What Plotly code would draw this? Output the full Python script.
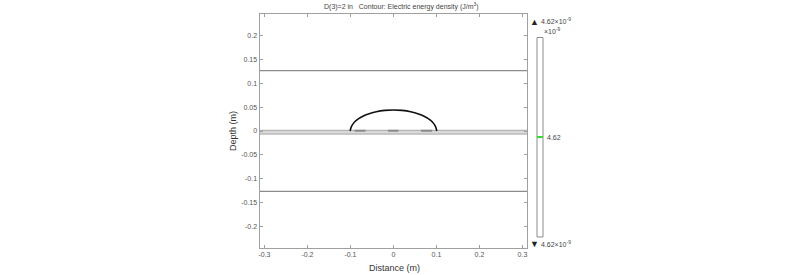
import plotly.graph_objects as go

# ---- data ----
x_ticks = [-0.3, -0.2, -0.1, 0, 0.1, 0.2, 0.3]
x_tick_text = ["-0.3", "-0.2", "-0.1", "0", "0.1", "0.2", "0.3"]
y_ticks = [0.2, 0.15, 0.1, 0.05, 0, -0.05, -0.1, -0.15, -0.2]
y_tick_text = ["0.2", "0.15", "0.1", "0.05", "0", "-0.05", "-0.1", "-0.15", "-0.2"]

x_range = [-0.3115, 0.3105]
y_range = [-0.246, 0.246]

# horizontal boundary lines (m)
boundary_y = [0.127, -0.127]
line_x = [-0.35, 0.35]

# thin plate layer around y=0
layer_top = 0.0015
layer_bottom = -0.0065

# arc (contour) points
arc_x = [-0.1007, -0.099, -0.096, -0.09, -0.08, -0.07, -0.06, -0.04, -0.02, 0.0,
         0.02, 0.04, 0.06, 0.07, 0.08, 0.09, 0.096, 0.099, 0.1007]
arc_y = [0.0, 0.0065, 0.0125, 0.0195, 0.0265, 0.0315, 0.0352, 0.0405, 0.0433, 0.0442,
         0.0433, 0.0405, 0.0352, 0.0315, 0.0265, 0.0195, 0.0125, 0.0065, 0.0]

# short electrode dashes on the plate
dash_x = [[-0.0905, -0.065], [-0.0125, 0.0115], [0.064, 0.09]]
dash_y = 0.0005

# colour legend
level_value = "4.62"
max_label = "4.62×10<sup>-9</sup>"
min_label = "4.62×10<sup>-9</sup>"
scale_label = "×10<sup>-9</sup>"

title_text = "D(3)=2 in   Contour: Electric energy density (J/m<sup>3</sup>)"

W, H = 800, 275
# plot frame in pixels
fx0, fx1, fy0, fy1 = 259.5, 527.0, 14.0, 248.0


def px(x):
    return x / W


def py(y):
    return 1 - y / H


fig = go.Figure()

# plate layer
fig.add_trace(go.Scatter(
    x=[line_x[0], line_x[1], line_x[1], line_x[0], line_x[0]],
    y=[layer_top, layer_top, layer_bottom, layer_bottom, layer_top],
    mode="lines", fill="toself", fillcolor="#d9d9d9",
    line=dict(color="#a6a6a6", width=1), hoverinfo="skip", showlegend=False))

for by in boundary_y:
    fig.add_trace(go.Scatter(x=line_x, y=[by, by], mode="lines",
                             line=dict(color="#8c8c8c", width=1.2),
                             hoverinfo="skip", showlegend=False))

for dx in dash_x:
    fig.add_trace(go.Scatter(x=dx, y=[dash_y, dash_y], mode="lines",
                             line=dict(color="#8a8a8a", width=2),
                             hoverinfo="skip", showlegend=False))

fig.add_trace(go.Scatter(x=arc_x, y=arc_y, mode="lines", line_shape="spline",
                         line=dict(color="#111111", width=1.6),
                         hoverinfo="skip", showlegend=False))

FONT = "Liberation Sans, Arial, sans-serif"
tick_font = dict(family=FONT, size=7, color="#555555")
axis_common = dict(showgrid=False, zeroline=False, showline=True, linecolor="#a0a0a0",
                   linewidth=1, mirror="ticks", ticks="inside", ticklen=3,
                   tickcolor="#a0a0a0", tickfont=tick_font, automargin=False)

fig.update_xaxes(range=x_range, tickvals=x_ticks, ticktext=x_tick_text,
                 domain=[px(fx0), px(fx1)], **axis_common)
fig.update_yaxes(range=y_range, tickvals=y_ticks, ticktext=y_tick_text,
                 domain=[py(fy1), py(fy0)], **axis_common)

# colour legend bar
cb_x0, cb_x1, cb_y0, cb_y1 = 537.0, 543.0, 37.5, 237.0
shapes = [
    dict(type="rect", xref="paper", yref="paper", x0=px(cb_x0), x1=px(cb_x1),
         y0=py(cb_y1), y1=py(cb_y0), line=dict(color="#8c8c8c", width=1), fillcolor="white"),
    dict(type="line", xref="paper", yref="paper", x0=px(cb_x0), x1=px(cb_x1),
         y0=py(137), y1=py(137), line=dict(color="#33dd33", width=2)),
]
fig.update_layout(shapes=shapes)

small = dict(family=FONT, size=7, color="#444444")
ann = [
    dict(text=title_text, x=px(401), y=py(6.5), xanchor="center", yanchor="middle",
         font=dict(family=FONT, size=7, color="#444444")),
    dict(text="Depth (m)", x=px(233), y=py(131), textangle=-90, xanchor="center",
         yanchor="middle", font=dict(family=FONT, size=9, color="#333333")),
    dict(text="Distance (m)", x=px(394), y=py(268), xanchor="center", yanchor="middle",
         font=dict(family=FONT, size=9, color="#333333")),
    dict(text="▲", x=px(534), y=py(22), xanchor="center", yanchor="middle",
         font=dict(family=FONT, size=9, color="#222222")),
    dict(text=max_label, x=px(539), y=py(21.5), xanchor="left", yanchor="middle", font=small),
    dict(text=scale_label, x=px(542), y=py(31), xanchor="left", yanchor="middle", font=small),
    dict(text="▼", x=px(534), y=py(244), xanchor="center", yanchor="middle",
         font=dict(family=FONT, size=9, color="#222222")),
    dict(text=min_label, x=px(539), y=py(243.5), xanchor="left", yanchor="middle", font=small),
    dict(text=level_value, x=px(545), y=py(137), xanchor="left", yanchor="middle", font=small),
]
for a in ann:
    a.update(xref="paper", yref="paper", showarrow=False)
fig.update_layout(annotations=ann)

fig.update_layout(width=W, height=H, autosize=False,
                  margin=dict(l=0, r=0, t=0, b=0, pad=0),
                  paper_bgcolor="white", plot_bgcolor="white")

fig.write_html("out.html")
